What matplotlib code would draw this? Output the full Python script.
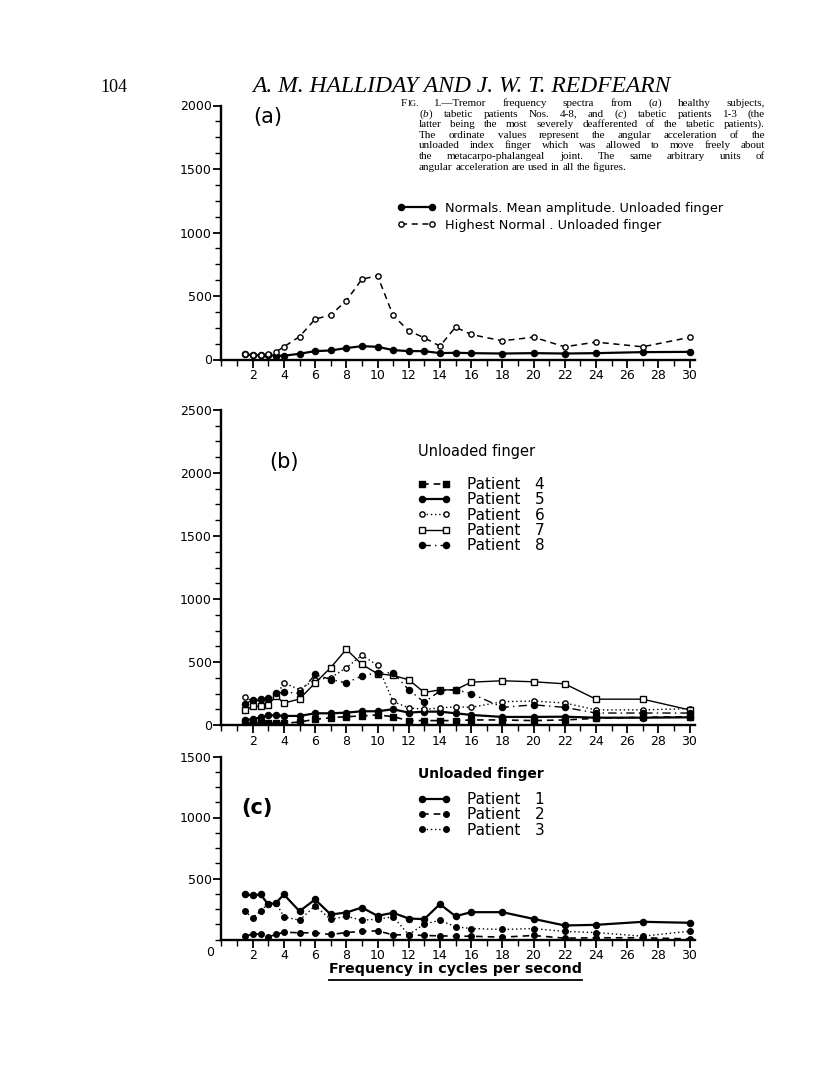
import matplotlib
matplotlib.use('Agg')
import matplotlib.pyplot as plt
import matplotlib.transforms as mtransforms
from matplotlib.lines import Line2D
from matplotlib.ticker import MultipleLocator

plt.rcParams['font.family'] = ['DejaVu Sans']
plt.rcParams['mathtext.fontset'] = 'custom'
plt.rcParams['mathtext.rm'] = 'Liberation Serif'
plt.rcParams['mathtext.it'] = 'Liberation Serif:italic'

# ---------------- data ----------------
freq = [1.5, 2, 2.5, 3, 3.5, 4, 5, 6, 7, 8, 9, 10, 11, 12, 13, 14, 15, 16, 18, 20, 22, 24, 27, 30]
xtick_labels = ['2', '4', '6', '8', '10', '12', '14', '16', '18', '20', '22', '24', '26', '28', '30']

# panel (a)
normal_mean = [40, 35, 32, 35, 30, 30, 45, 66, 71, 90, 105, 100, 74, 66, 66, 50, 53, 50, 47, 50, 47, 50, 58, 60]
highest_normal = [42, 35, 35, 40, 60, 100, 180, 318, 350, 463, 632, 660, 347, 226, 171, 105, 255, 197, 147, 176, 100, 137, 100, 174]

# panel (b)
patient4 = [19, 13, 21, 13, 19, 13, 24, 45, 58, 66, 72, 80, 66, 35, 35, 35, 35, 40, 40, 35, 40, 53, 61, 66]
patient5 = [40, 45, 61, 77, 77, 72, 72, 93, 93, 98, 109, 109, 125, 98, 106, 106, 93, 80, 64, 64, 66, 58, 58, 61]
patient6 = [219, 190, 195, 200, 230, 334, 281, 361, 375, 455, 553, 473, 187, 135, 125, 135, 145, 140, 185, 190, 175, 120, 120, 130]
patient7 = [120, 147, 150, 160, 230, 174, 206, 334, 455, 601, 481, 407, 394, 359, 258, 279, 279, 340, 351, 343, 327, 205, 205, 120]
patient8 = [166, 200, 205, 215, 254, 259, 254, 401, 361, 334, 390, 414, 414, 280, 180, 270, 280, 250, 140, 160, 140, 95, 95, 95]

# panel (c)
patient1 = [372, 361, 369, 287, 301, 369, 232, 328, 205, 221, 262, 194, 219, 172, 167, 290, 191, 224, 224, 169, 115, 120, 145, 137]
patient2 = [27, 44, 44, 22, 41, 60, 55, 55, 41, 57, 66, 71, 38, 38, 33, 30, 27, 27, 19, 33, 11, 14, 14, 5]
patient3 = [232, 180, 232, 295, 301, 186, 158, 276, 164, 191, 158, 167, 186, 40, 126, 158, 104, 90, 82, 90, 66, 57, 27, 68]

# ---------------- figure ----------------
W, H = 816, 1087
fig = plt.figure(figsize=(W / 100, H / 100), dpi=100)
renderer = fig.canvas.get_renderer()


def fx(x):
    return x / W


def fy(y):
    return 1 - y / H


def fit_text(x_left, x_right, y, s, base=10, **kw):
    t = fig.text(fx(x_left), fy(y), s, fontsize=base, ha='left', va='center', **kw)
    w = t.get_window_extent(renderer).width
    t.set_fontsize(base * (x_right - x_left) / w)
    return t


X0 = 221.5          # pixel of x = 0
PX_PER_X = 15.6
XMAX = 30.35


def make_ax(y_zero_px, ymax, px_per_1000):
    top = y_zero_px - ymax * px_per_1000 / 1000
    ax = fig.add_axes([fx(X0), fy(y_zero_px), XMAX * PX_PER_X / W, (y_zero_px - top) / H])
    ax.set_xlim(0, XMAX)
    ax.set_ylim(0, ymax)
    ax.patch.set_alpha(0)
    for s in ('top', 'right'):
        ax.spines[s].set_visible(False)
    for s in ('left', 'bottom'):
        ax.spines[s].set_linewidth(1.7)
    ax.yaxis.set_major_locator(MultipleLocator(500))
    ax.yaxis.set_minor_locator(MultipleLocator(125))
    ax.xaxis.set_minor_locator(MultipleLocator(1))
    ax.tick_params(axis='both', which='major', direction='out', length=6, width=1.3,
                   labelsize=9, pad=1)
    ax.tick_params(axis='both', which='minor', direction='out', length=4, width=1.0)
    ax.set_xticks(range(2, 31, 2))
    ax.set_xticklabels(xtick_labels)
    return ax


dash = (0, (4, 3))
dot = (0, (1, 2))
dashdot = (0, (6, 3, 1, 3))

# ---- panel (a)
axa = make_ax(359.5, 2000, 127)
la1, = axa.plot(freq, normal_mean, color='black', lw=1.6, marker='o', ms=4.4,
                mfc='black', mec='black', label='Normals. Mean amplitude. Unloaded finger')
la2, = axa.plot(freq, highest_normal, color='black', lw=1.1, ls=dash, marker='o', ms=3.8,
                mfc='white', mec='black', mew=1.0, label='Highest Normal . Unloaded finger')
axa.legend(handles=[la1, la2], loc='upper left', bbox_to_anchor=(fx(397), fy(202)),
           bbox_transform=fig.transFigure, frameon=False, fontsize=9.3,
           handlelength=3.0, handletextpad=0.75, labelspacing=0.3, borderpad=0,
           borderaxespad=0, numpoints=2)

# ---- panel (b)
axb = make_ax(725, 2500, 126)
lb4, = axb.plot(freq, patient4, color='black', lw=1.2, ls=dash, marker='s', ms=3.8,
                mfc='black', mec='black', label='Patient   4')
lb5, = axb.plot(freq, patient5, color='black', lw=1.6, marker='o', ms=4.4,
                mfc='black', mec='black', label='Patient   5')
lb6, = axb.plot(freq, patient6, color='black', lw=1.0, ls=dot, marker='o', ms=3.8,
                mfc='white', mec='black', mew=1.0, label='Patient   6')
lb7, = axb.plot(freq, patient7, color='black', lw=1.0, marker='s', ms=4.2,
                mfc='white', mec='black', mew=1.0, label='Patient   7')
lb8, = axb.plot(freq, patient8, color='black', lw=1.0, ls=dashdot, marker='o', ms=4.4,
                mfc='black', mec='black', label='Patient   8')
axb.legend(handles=[lb4, lb5, lb6, lb7, lb8], loc='upper left',
           bbox_to_anchor=(fx(417), fy(477)), bbox_transform=fig.transFigure,
           frameon=False, fontsize=11, handlelength=2.2, handletextpad=1.1,
           labelspacing=0.02, borderpad=0, borderaxespad=0, numpoints=2)

# ---- panel (c)
axc = make_ax(939.5, 1500, 122)
lc1, = axc.plot(freq, patient1, color='black', lw=1.6, marker='o', ms=4.4,
                mfc='black', mec='black', label='Patient   1')
lc2, = axc.plot(freq, patient2, color='black', lw=1.2, ls=dash, marker='o', ms=4.0,
                mfc='black', mec='black', label='Patient   2')
lc3, = axc.plot(freq, patient3, color='black', lw=1.0, ls=dot, marker='o', ms=4.0,
                mfc='black', mec='black', label='Patient   3')
axc.legend(handles=[lc1, lc2, lc3], loc='upper left',
           bbox_to_anchor=(fx(417), fy(792)), bbox_transform=fig.transFigure,
           frameon=False, fontsize=11, handlelength=2.2, handletextpad=1.1,
           labelspacing=0.02, borderpad=0, borderaxespad=0, numpoints=2)
axc.set_yticks([500, 1000, 1500])
tr = mtransforms.blended_transform_factory(axc.transData, axc.transAxes)
axc.text(-0.45, -0.035, '0', transform=tr, ha='right', va='top', fontsize=9)

# ---------------- texts ----------------
fig.text(fx(100), fy(87), '104', family='Liberation Serif', fontsize=13, va='center', ha='left')
fit_text(252, 672, 86, 'A. M. HALLIDAY AND J. W. T. REDFEARN', base=14,
         family='Liberation Serif', style='italic')

fig.text(fx(268), fy(117), '(a)', fontsize=15, va='center', ha='center')
fig.text(fx(284), fy(462), '(b)', fontsize=15, va='center', ha='center')
fig.text(fx(257), fy(808), '(c)', fontsize=15, va='center', ha='center', weight='bold')
fig.text(fx(418), fy(452), 'Unloaded finger', fontsize=10.5, va='center', ha='left')
fig.text(fx(418), fy(774), 'Unloaded finger', fontsize=10, va='center', ha='left', weight='bold')

# caption, justified
caption = [
    'FIG. 1.\u2014Tremor frequency spectra from ($\\it{a}$) healthy subjects,',
    '($\\it{b}$) tabetic patients Nos. 4-8, and ($\\it{c}$) tabetic patients 1-3 (the',
    'latter being the most severely deafferented of the tabetic patients).',
    'The ordinate values represent the angular acceleration of the',
    'unloaded index finger which was allowed to move freely about',
    'the metacarpo-phalangeal joint.  The same arbitrary units of',
    'angular acceleration are used in all the figures.',
]
cap_fs = 8.0
cap_y0, cap_dy = 106, 10.6
for i, line in enumerate(caption):
    xl = 401 if i == 0 else 419
    xr = 765
    y = fy(cap_y0 + i * cap_dy)
    words = line.split()
    ts = [fig.text(0, y, w, family='Liberation Serif', fontsize=cap_fs,
                   va='baseline', ha='left') for w in words]
    small = None
    if i == 0:
        ts[0].set_text('F')
        small = fig.text(0, y, 'IG.', family='Liberation Serif', fontsize=cap_fs * 0.78,
                         va='baseline', ha='left')
    widths = [t.get_window_extent(renderer).width for t in ts]
    if small is not None:
        wf = widths[0]
        widths[0] += small.get_window_extent(renderer).width
    if i < len(caption) - 1:
        gap = (xr - xl - sum(widths)) / (len(words) - 1)
    else:
        gap = 2.8
    x = xl
    for j, (t, w) in enumerate(zip(ts, widths)):
        t.set_x(fx(x))
        if small is not None and j == 0:
            small.set_x(fx(x + wf))
        x += w + gap

# x label with underline
xl_txt = fit_text(329, 578, 969, 'Frequency in cycles per second', base=11, weight='bold')
bb = xl_txt.get_window_extent(renderer)
fig.add_artist(Line2D([fx(bb.x0), fx(bb.x1)], [fy(980), fy(980)],
                      transform=fig.transFigure, color='black', lw=1.3))

fig.savefig('out.png', dpi=100)
